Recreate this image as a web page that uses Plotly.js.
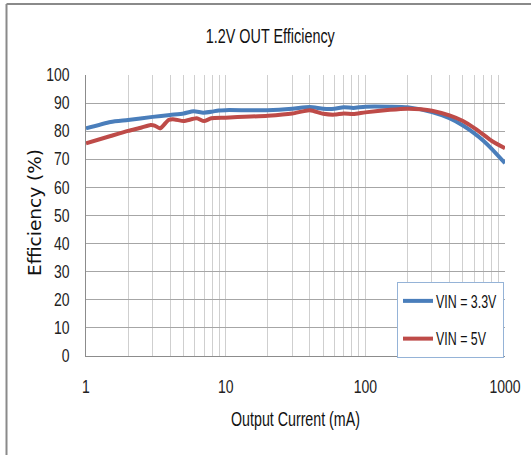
<!DOCTYPE html>
<html>
<head>
<meta charset="utf-8">
<script src="https://cdn.plot.ly/plotly-3.0.1.min.js"></script>
<style>
  html, body { margin: 0; padding: 0; background: #fff; }
  #chart { width: 531px; height: 455px; }
</style>
</head>
<body>
<div id="chart"></div>
<script>
// Output current (mA) and efficiency (%) for each input voltage
const currentVin33 = [1, 1.5, 2, 3, 4, 5, 5.9, 6.9, 7.9, 8.9, 10, 20, 30, 40, 50, 60, 70, 82, 100, 150, 200, 300, 400, 500, 600, 700, 800, 1000];
const effVin33 = [81.0, 83.3, 84.0, 85.1, 85.8, 86.3, 87.1, 86.6, 86.9, 87.4, 87.5, 87.5, 88.0, 88.6, 88.0, 88.0, 88.5, 88.3, 88.7, 88.7, 88.5, 86.8, 84.6, 82.0, 79.3, 76.6, 73.8, 68.6];

const currentVin5 = [1, 1.5, 2, 2.5, 2.9, 3.1, 3.4, 3.9, 4.3, 5, 6.2, 7, 7.9, 10, 20, 30, 40, 50, 60, 70, 82, 100, 150, 200, 250, 300, 400, 500, 600, 700, 800, 1000];
const effVin5 = [75.7, 78.3, 80.1, 81.3, 82.2, 82.0, 81.0, 84.0, 84.2, 83.6, 84.6, 83.6, 84.6, 84.8, 85.5, 86.3, 87.5, 86.2, 85.9, 86.3, 86.1, 86.7, 87.6, 88.0, 87.8, 87.3, 85.6, 83.6, 81.2, 78.8, 76.6, 73.9];

const seriesNames = ['VIN = 3.3V', 'VIN = 5V'];
const chartTitle = '1.2V OUT Efficiency';
const xTitle = 'Output Current (mA)';
const yTitle = 'Efficiency (%)';

// Log grid: every integer step in each decade, labels only on decades
const xGridVals = [];
const xGridText = [];
for (const dec of [1, 10, 100]) {
  for (let m = 1; m <= 9; m++) {
    xGridVals.push(m * dec);
    xGridText.push(m === 1 ? String(dec) : '');
  }
}
xGridVals.push(1000);
xGridText.push('1000');

const yTickVals = [0, 10, 20, 30, 40, 50, 60, 70, 80, 90, 100];

const sans = "'Liberation Sans', Arial, sans-serif";

const traces = [
  {
    x: currentVin33, y: effVin33, name: seriesNames[0],
    type: 'scatter', mode: 'lines', legendgroup: 'a',
    line: { color: '#4a7ebb', width: 4, shape: 'spline', smoothing: 0.6 }
  },
  {
    x: currentVin5, y: effVin5, name: seriesNames[1],
    type: 'scatter', mode: 'lines', legendgroup: 'b',
    line: { color: '#be4b48', width: 4, shape: 'spline', smoothing: 0.6 }
  }
];

// legend box top-left corner and width, in page pixels
const legendLeft = 397, legendTop = 282, legendWidth = 106;

const layout = {
  width: 531, height: 455,
  margin: { l: 86, r: 26, t: 75, b: 99 },
  paper_bgcolor: '#ffffff',
  plot_bgcolor: '#ffffff',
  font: { family: sans, size: 17, color: '#222' },
  title: {
    text: chartTitle,
    font: { family: sans, size: 20, color: '#111' },
    x: 0.509, xanchor: 'center',
    y: 1 - 36.5 / 455, yanchor: 'middle'
  },
  xaxis: {
    type: 'log',
    range: [0, 3],
    automargin: false,
    tickmode: 'array',
    tickvals: xGridVals,
    ticktext: xGridText,
    showgrid: true,
    gridcolor: '#cfcfcf',
    gridwidth: 1,
    ticks: '',
    ticklabelstandoff: 15,
    showline: true,
    linecolor: '#8c8c8c',
    linewidth: 1,
    zeroline: false,
    tickfont: { family: sans, size: 17.5, color: '#222' },
    title: { text: xTitle, font: { family: sans, size: 19.5, color: '#111' }, standoff: 16 }
  },
  yaxis: {
    range: [0, 100],
    automargin: false,
    tickmode: 'array',
    tickvals: yTickVals,
    showgrid: true,
    gridcolor: '#a6a6a6',
    gridwidth: 1,
    ticks: '',
    ticklabelstandoff: 12,
    showline: true,
    linecolor: '#8c8c8c',
    linewidth: 1,
    zeroline: false,
    tickfont: { family: sans, size: 17.5, color: '#222' }
  },
  annotations: [
    // y-axis title, rotated
    { text: yTitle, textangle: -90, xref: 'paper', yref: 'paper',
      x: (34 - 86) / 419, y: (356 - 213) / 281, xanchor: 'center', yanchor: 'middle',
      showarrow: false, font: { family: "'DejaVu Sans', sans-serif", size: 18.5, color: '#111' } }
  ],
  legend: {
    x: 1, xanchor: 'right',
    y: 0, yanchor: 'bottom',
    bgcolor: '#ffffff',
    bordercolor: '#95b3d7',
    borderwidth: 1,
    font: { family: sans, size: 17.5, color: '#111' },
    itemwidth: 30,
    traceorder: 'grouped',
    tracegroupgap: 12
  },
  shapes: [
    // outer frame: top and left edges
    { type: 'line', xref: 'paper', yref: 'paper', x0: (6.5 - 86) / 419, x1: 1.2, y0: (356 - 4) / 281, y1: (356 - 4) / 281,
      line: { color: '#8a8a8a', width: 2 } },
    { type: 'line', xref: 'paper', yref: 'paper', x0: (6.5 - 86) / 419, x1: (6.5 - 86) / 419, y0: -0.4, y1: (356 - 4) / 281,
      line: { color: '#8a8a8a', width: 2 } }
  ],
  showlegend: true
};

// Condense a text element horizontally about its anchor point, then nudge it
function condense(el, s, dx = 0) {
  const bb = el.getBBox();
  const anchor = el.getAttribute('text-anchor') || getComputedStyle(el).textAnchor || 'start';
  let ax = bb.x;
  if (anchor === 'middle') ax = bb.x + bb.width / 2;
  else if (anchor === 'end') ax = bb.x + bb.width;
  const old = el.getAttribute('transform') || '';
  el.setAttribute('transform', `${old} translate(${ax + dx} 0) scale(${s} 1) translate(${-ax} 0)`.trim());
}

const gd = document.getElementById('chart');
Plotly.newPlot(gd, traces, layout, { staticPlot: true, displayModeBar: false }).then(() => {
  gd.querySelectorAll('.xtick text, .ytick text').forEach(t => condense(t, 0.8));
  gd.querySelectorAll('.gtitle').forEach(t => condense(t, 0.72));
  gd.querySelectorAll('.g-xtitle text').forEach(t => condense(t, 0.73));
  gd.querySelectorAll('.legendtext').forEach(t => condense(t, 0.71, -2));
  const leg = gd.querySelector('.legend');
  if (leg) {
    const bg = leg.querySelector('.bg');
    if (bg) bg.setAttribute('width', legendWidth);
    leg.setAttribute('transform', `translate(${legendLeft},${legendTop})`);
  }
});
</script>
</body>
</html>
